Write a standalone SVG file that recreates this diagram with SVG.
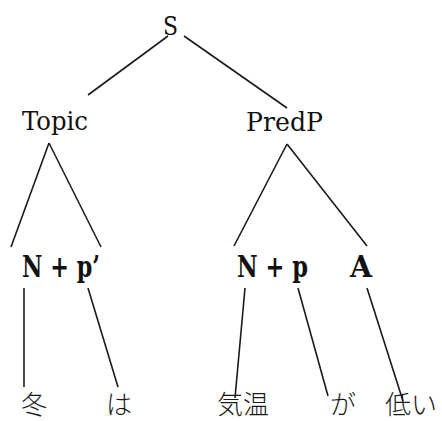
<svg xmlns="http://www.w3.org/2000/svg" width="442" height="421" viewBox="0 0 442 421">
  <style>
    text { fill: #111111; }
    .cat { font-size: 26px; }
    .phr { font-size: 29px; font-weight: bold; }
    .jp { font-family: "Noto Sans CJK JP", sans-serif; font-size: 26px; font-weight: 300; fill: #1a1a1a; }
    .edge { stroke: #1a1a1a; stroke-width: 1.6; fill: none; stroke-linecap: butt; }
  </style>
  <rect width="442" height="421" fill="#ffffff"/>

  <!-- tree branches -->
  <g id="connectors">
    <line class="edge" x1="168" y1="36" x2="88" y2="95"/>
    <line class="edge" x1="184" y1="36" x2="287" y2="108"/>
    <line class="edge" x1="49" y1="143" x2="11" y2="247"/>
    <line class="edge" x1="49" y1="143" x2="101" y2="247"/>
    <line class="edge" x1="287" y1="144" x2="234" y2="246"/>
    <line class="edge" x1="287" y1="144" x2="367" y2="246"/>
    <line class="edge" x1="24" y1="288" x2="24" y2="387"/>
    <line class="edge" x1="88" y1="288" x2="118" y2="387"/>
    <line class="edge" x1="245" y1="288" x2="235" y2="398"/>
    <line class="edge" x1="298" y1="288" x2="328" y2="396"/>
    <line class="edge" x1="367" y1="288" x2="403" y2="401"/>
  </g>

  <!-- categories (serif labels) -->
  <g font-family="DejaVu Serif, Liberation Serif, serif">
    <g id="node-S"><text class="cat" x="163" y="35" textLength="15" lengthAdjust="spacingAndGlyphs">S</text></g>
    <g id="node-Topic"><text class="cat" x="22" y="130" textLength="66" lengthAdjust="spacingAndGlyphs">Topic</text></g>
    <g id="node-PredP"><text class="cat" x="246" y="131" textLength="77" lengthAdjust="spacingAndGlyphs">PredP</text></g>
    <g id="node-Np1"><text class="phr" x="22" y="277" textLength="78" lengthAdjust="spacingAndGlyphs">N + p’</text></g>
    <g id="node-Np2"><text class="phr" x="237" y="277" textLength="71" lengthAdjust="spacingAndGlyphs">N + p</text></g>
    <g id="node-A"><text class="phr" x="350" y="277" textLength="22" lengthAdjust="spacingAndGlyphs">A</text></g>
  </g>

  <!-- words -->
  <g id="word-fuyu"><text class="jp" x="21" y="414">冬</text></g>
  <g id="word-wa"><text class="jp" x="106" y="414">は</text></g>
  <g id="word-kion"><text class="jp" x="217" y="414">気温</text></g>
  <g id="word-ga"><text class="jp" x="330" y="414">が</text></g>
  <g id="word-hikui"><text class="jp" x="385" y="414">低い</text></g>
</svg>
